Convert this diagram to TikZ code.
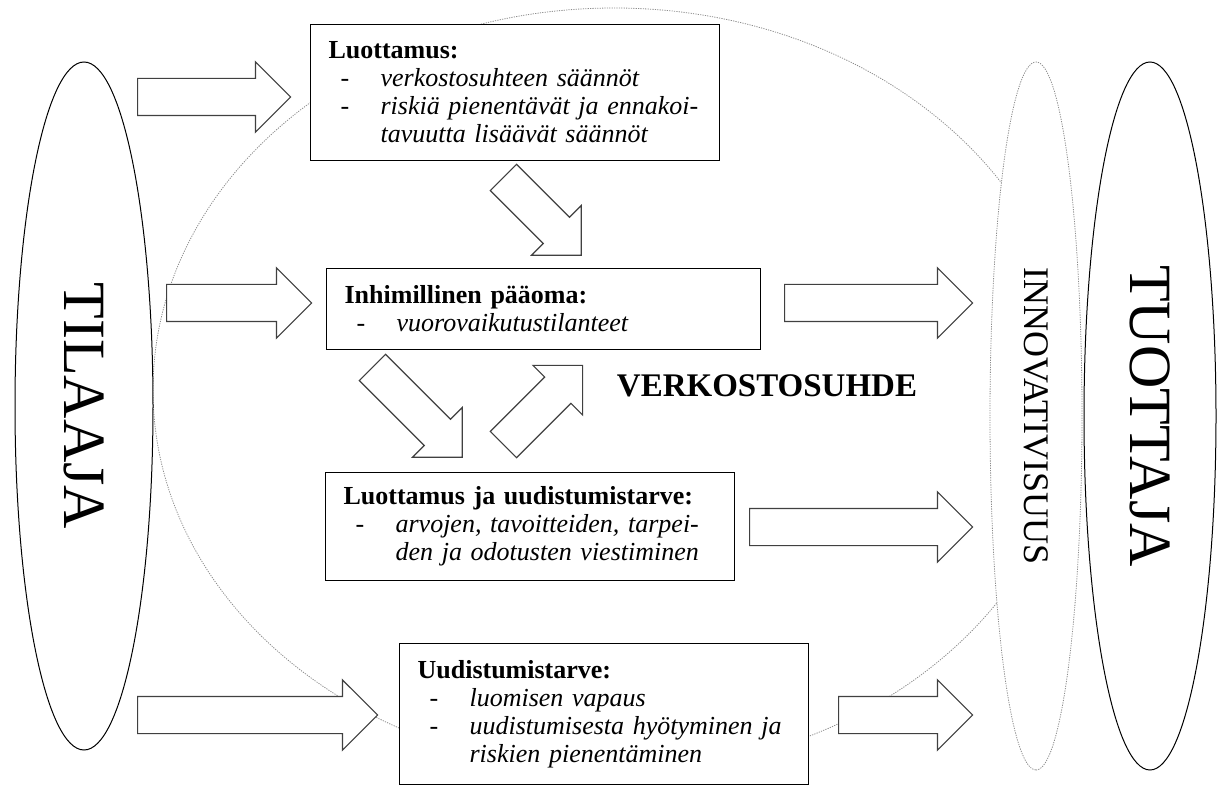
\documentclass[tikz,border=0pt]{standalone}
\usepackage{fontspec}
\setmainfont{Liberation Serif}
\usetikzlibrary{shapes.geometric,shapes.arrows}
\newcommand{\otsikko}[1]{\textbf{#1}}
\newcommand{\kohta}[1]{\mbox{\hspace*{12pt}\makebox[40pt][l]{-}\textit{#1}}}
\newcommand{\jatko}[1]{\mbox{\hspace*{52pt}\textit{#1}}}
\tikzset{
 laatikko/.style={draw,fill=white,line width=1.2pt,anchor=north west,align=left,
  inner xsep=18pt,inner ysep=0pt,font=\fontsize{26}{28}\selectfont},
 nuoli/.style={draw=black!75,fill=white,line width=1.2pt,single arrow,
  single arrow head extend=16.5pt,inner xsep=0pt,inner ysep=18pt,anchor=tail},
 soikio/.style={draw,fill=white,ellipse,rotate=-90,line width=1pt},
 pisteet/.style={draw=black!45,dash pattern=on 1.2pt off 1.2pt,line width=0.8pt}
}
\begin{document}
\begin{tikzpicture}[x=1pt,y=-1pt]
 \useasboundingbox (0,0) rectangle (1218,786);
 \node[ellipse,pisteet,minimum width=922pt,minimum height=764pt] (verkosto) at (614,390) {};
 \node[soikio,minimum width=688pt,minimum height=138pt,font=\fontsize{60}{60}\selectfont] (tilaaja) at (84,406) {TILAAJA};
 \node[soikio,pisteet,minimum width=708pt,minimum height=92pt,font=\fontsize{36}{36}\selectfont] (innovatiivisuus) at (1036,416) {INNOVATIVISUUS};
 \node[soikio,minimum width=708pt,minimum height=132pt,font=\fontsize{60}{60}\selectfont] (tuottaja) at (1150,416) {TUOTTAJA};
 \node[laatikko,text width=373pt,minimum height=136pt] (luottamus) at (310,24)
  {\otsikko{Luottamus:}\\ \kohta{verkostosuhteen säännöt}\\ \kohta{riskiä pienentävät ja ennakoi-}\\ \jatko{tavuutta lisäävät säännöt}};
 \node[laatikko,text width=398pt,minimum height=81pt] (paaoma) at (326,268)
  {\otsikko{Inhimillinen pääoma:}\\ \kohta{vuorovaikutustilanteet}};
 \node[laatikko,text width=373pt,minimum height=108pt] (molemmat) at (325,472)
  {\otsikko{Luottamus ja uudistumistarve:}\\ \kohta{arvojen, tavoitteiden, tarpei-}\\ \jatko{den ja odotusten viestiminen}};
 \node[laatikko,text width=373pt,minimum height=141pt] (uudistuminen) at (399,643)
  {\otsikko{Uudistumistarve:}\\ \kohta{luomisen vapaus}\\ \kohta{uudistumisesta hyötyminen ja}\\ \jatko{riskien pienentäminen}};
 \node[nuoli,minimum height=153pt] (n1) at (137,97) {};
 \node[nuoli,minimum height=145pt] (n2) at (166,303) {};
 \node[nuoli,minimum height=240pt] (n3) at (137,715) {};
 \node[nuoli,minimum height=188pt] (n4) at (784,303) {};
 \node[nuoli,minimum height=223pt] (n5) at (749,527) {};
 \node[nuoli,minimum height=134pt] (n6) at (838,715) {};
 \node[nuoli,minimum height=110pt,rotate=-45] (n7) at (503,177) {};
 \node[nuoli,minimum height=127pt,rotate=-45] (n8) at (372,367) {};
 \node[nuoli,minimum height=112pt,rotate=45] (n9) at (503,445) {};
 \node[font=\bfseries\fontsize{33}{33}\selectfont] (verkostosuhde) at (767,386) {VERKOSTOSUHDE};
\end{tikzpicture}
\end{document}
